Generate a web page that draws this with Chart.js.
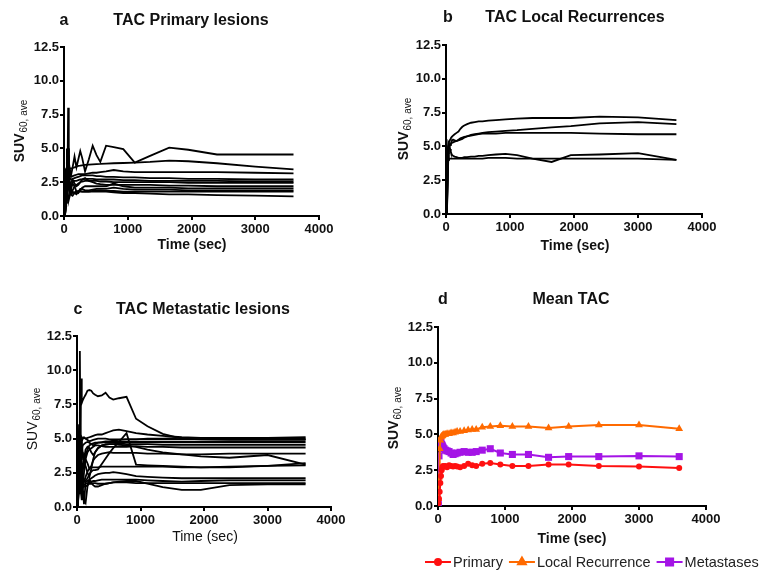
<!DOCTYPE html>
<html>
<head>
<meta charset="utf-8">
<script src="https://cdn.jsdelivr.net/npm/chart.js@4.4.1/dist/chart.umd.min.js"></script>
<style>
  body { margin: 0; background: #fff; overflow: hidden; }
  #wrap { position: relative; width: 766px; height: 572px; }
  canvas { position: absolute; }
</style>
</head>
<body>
<div id="wrap">
  <canvas id="pa" width="383" height="286" style="left:0;top:0"></canvas>
  <canvas id="pb" width="383" height="286" style="left:383px;top:0"></canvas>
  <canvas id="pc" width="383" height="286" style="left:0;top:286px"></canvas>
  <canvas id="pd" width="383" height="286" style="left:383px;top:286px"></canvas>
</div>
<script>
// temps (milieu de frame, sec) communs à toutes les courbes
var frameTimes = [5, 15, 25, 35, 45, 55, 65, 75, 90, 110, 135, 165, 195, 225, 255, 285, 330, 390, 450, 510, 570, 660, 780, 930, 1110, 1350, 1650, 1950, 2400, 3000, 3600];

// ticks des axes
var xTicks = [0, 1000, 2000, 3000, 4000];
var yTicks = [0, 2.5, 5, 7.5, 10, 12.5];

// a : lésions primaires
var primaryLesions = [
  [0, 1.0, 2.5, 3.5, 4.0, 4.5, 5.0, 4.0, 3.5, 3.0, 3.6, 4.4, 3.6, 4.2, 4.8, 4.3, 3.3, 4.2, 5.2, 4.5, 4.0, 5.2, 5.1, 4.95, 3.95, 4.45, 5.05, 4.9, 4.55, 4.55, 4.55],
  [0, 0.5, 1.5, 2.5, 3.2, 3.4, 3.5, 3.6, 3.55, 3.5, 3.55, 3.6, 3.65, 3.7, 3.72, 3.75, 3.78, 3.8, 3.82, 3.84, 3.85, 3.88, 3.9, 3.92, 3.95, 4.0, 4.1, 4.05, 3.9, 3.65, 3.45],
  [0, 0.8, 2.0, 3.0, 2.8, 2.9, 3.0, 3.1, 3.0, 2.9, 2.95, 3.0, 3.05, 3.1, 3.1, 3.1, 3.1, 3.15, 3.2, 3.2, 3.25, 3.3, 3.4, 3.3, 3.25, 3.25, 3.25, 3.25, 3.25, 3.2, 3.15],
  [0, 1.0, 3.5, 2.0, 2.5, 2.8, 3.0, 2.9, 2.8, 2.7, 2.75, 2.8, 2.85, 2.9, 2.95, 3.0, 3.0, 3.0, 3.0, 2.95, 2.95, 2.9, 2.9, 2.85, 2.85, 2.8, 2.8, 2.75, 2.75, 2.7, 2.7],
  [0, 0.5, 2.0, 3.0, 5.0, 3.0, 8.0, 2.5, 2.3, 2.2, 2.5, 2.6, 2.6, 2.65, 2.7, 2.7, 2.75, 2.75, 2.75, 2.7, 2.7, 2.7, 2.7, 2.65, 2.65, 2.6, 2.6, 2.6, 2.6, 2.55, 2.55],
  [0, 0.2, 0.5, 1.2, 2.0, 3.5, 4.5, 2.5, 1.8, 1.6, 1.9, 2.2, 2.3, 2.4, 2.5, 2.55, 2.6, 2.6, 2.6, 2.6, 2.55, 2.55, 2.5, 2.5, 2.5, 2.5, 2.5, 2.45, 2.45, 2.45, 2.45],
  [0, 0.1, 0.3, 1.0, 1.5, 2.5, 5.0, 3.0, 2.0, 2.5, 2.7, 2.4, 2.2, 2.3, 2.5, 2.7, 2.8, 2.6, 2.5, 2.4, 2.35, 2.3, 2.3, 2.3, 2.3, 2.3, 2.25, 2.25, 2.2, 2.2, 2.2],
  [0, 0.5, 1.5, 2.5, 3.0, 2.0, 1.5, 1.2, 1.5, 2.0, 2.4, 2.2, 1.8, 1.7, 1.9, 2.1, 2.2, 2.2, 2.2, 2.2, 2.2, 2.2, 2.4, 2.2, 2.1, 2.1, 2.1, 2.05, 2.05, 2.05, 2.05],
  [0, 0.3, 1.0, 2.0, 2.5, 3.0, 2.5, 2.0, 1.8, 1.6, 1.5, 1.7, 1.6, 1.8, 2.0, 2.0, 1.9, 1.9, 1.95, 2.0, 2.0, 2.0, 2.1, 2.0, 1.95, 1.95, 1.95, 1.9, 1.9, 1.9, 1.9],
  [0, 0.2, 0.8, 1.5, 2.0, 2.5, 3.0, 3.5, 2.5, 2.0, 1.8, 1.7, 1.8, 1.85, 1.85, 1.8, 1.8, 1.8, 1.85, 1.9, 1.9, 1.85, 1.85, 1.8, 1.8, 1.8, 1.8, 1.8, 1.8, 1.8, 1.8],
  [0, 0.1, 0.5, 1.0, 1.5, 1.8, 2.0, 2.2, 2.0, 1.8, 1.7, 1.75, 1.8, 1.8, 1.8, 1.8, 1.8, 1.8, 1.8, 1.8, 1.8, 1.8, 1.75, 1.7, 1.7, 1.65, 1.6, 1.6, 1.55, 1.5, 1.45]
];

// b : récidives locales
var localRecurrences = [
  [0, 0.5, 3.5, 5.0, 5.3, 5.4, 5.5, 5.6, 5.7, 5.8, 5.9, 6.0, 6.1, 6.3, 6.45, 6.55, 6.65, 6.75, 6.8, 6.85, 6.85, 6.9, 6.95, 7.0, 7.05, 7.1, 7.1, 7.1, 7.2, 7.15, 6.95],
  [0, 0.3, 2.5, 4.5, 5.0, 5.1, 5.15, 5.2, 5.25, 5.3, 5.35, 5.4, 5.45, 5.5, 5.55, 5.65, 5.75, 5.85, 5.9, 5.95, 6.0, 6.05, 6.1, 6.15, 6.2, 6.3, 6.4, 6.5, 6.7, 6.8, 6.65],
  [0, 0.2, 2.0, 4.0, 4.8, 5.0, 5.1, 5.2, 5.4, 5.5, 5.45, 5.4, 5.5, 5.6, 5.65, 5.7, 5.75, 5.8, 5.85, 5.9, 5.95, 5.95, 5.95, 6.0, 6.0, 6.0, 6.0, 6.0, 5.95, 5.9, 5.9],
  [0, 0.5, 3.0, 4.0, 4.05, 4.1, 4.1, 4.1, 4.1, 4.1, 4.1, 4.1, 4.1, 4.1, 4.1, 4.1, 4.1, 4.1, 4.1, 4.1, 4.1, 4.15, 4.15, 4.15, 4.1, 4.1, 4.1, 4.1, 4.1, 4.1, 4.0],
  [0, 1.0, 4.5, 5.3, 5.2, 5.0, 4.8, 4.6, 4.4, 4.3, 4.25, 4.2, 4.15, 4.15, 4.15, 4.2, 4.2, 4.25, 4.25, 4.3, 4.3, 4.35, 4.4, 4.45, 4.35, 4.1, 3.85, 4.35, 4.4, 4.5, 4.0]
];

// c : lésions métastatiques
var metastaticLesions = [
  [0, 1.5, 4.0, 3.0, 2.0, 5.0, 9.4, 7.6, 7.8, 8.0, 8.2, 8.5, 8.55, 8.5, 8.3, 8.2, 8.1, 8.15, 8.35, 8.0, 7.85, 7.95, 8.05, 6.45, 5.9, 5.35, 5.0, 4.95, 4.9, 4.9, 4.9],
  [0, 2.0, 5.0, 6.0, 4.5, 4.8, 5.0, 5.1, 5.0, 5.05, 5.0, 5.05, 5.1, 5.15, 5.2, 5.25, 5.3, 5.3, 5.4, 5.5, 5.6, 5.65, 5.55, 5.4, 5.3, 5.2, 5.1, 5.05, 5.0, 5.0, 5.0],
  [0, 2.0, 4.0, 6.0, 11.4, 4.0, 3.5, 4.0, 4.5, 4.6, 4.7, 4.75, 4.7, 4.6, 4.5, 4.6, 4.7, 4.75, 4.8, 4.8, 4.85, 4.9, 4.95, 4.95, 5.0, 5.0, 5.05, 5.05, 5.05, 5.05, 5.1],
  [0, 1.0, 3.0, 5.0, 4.0, 3.5, 3.0, 2.5, 2.2, 2.0, 1.9, 2.1, 2.4, 2.6, 2.7, 2.7, 2.75, 3.15, 3.55, 3.95, 4.3, 4.75, 5.4, 3.1, 3.05, 3.0, 2.95, 2.9, 2.95, 3.0, 3.05],
  [0, 2.0, 4.0, 4.5, 3.6, 3.8, 4.0, 4.1, 3.9, 3.7, 3.5, 3.2, 2.8, 3.0, 3.4, 3.6, 3.8, 3.9, 3.95, 4.0, 3.95, 3.95, 3.95, 3.95, 3.9, 3.9, 3.85, 3.85, 3.9, 3.9, 3.9],
  [0, 1.0, 2.5, 4.0, 5.0, 4.5, 4.2, 4.0, 3.8, 3.5, 3.0, 2.5, 2.2, 2.8, 3.5, 4.0, 4.3, 4.5, 4.6, 4.6, 4.6, 4.55, 4.5, 4.4, 4.2, 4.0, 3.85, 3.7, 3.6, 3.8, 3.1],
  [0, 0.5, 2.0, 3.5, 4.5, 5.0, 4.8, 4.5, 4.0, 3.5, 3.8, 4.2, 4.5, 4.6, 4.65, 4.7, 4.7, 4.7, 4.75, 4.75, 4.75, 4.75, 4.75, 4.75, 4.75, 4.75, 4.75, 4.75, 4.75, 4.75, 4.75],
  [0, 0.3, 1.5, 3.0, 4.0, 4.5, 3.8, 3.0, 2.5, 3.5, 4.2, 4.4, 4.3, 4.0, 3.8, 4.0, 4.3, 4.5, 4.55, 4.6, 4.6, 4.65, 4.6, 4.6, 4.6, 4.55, 4.55, 4.55, 4.55, 4.55, 4.55],
  [0, 1.0, 3.0, 4.5, 5.2, 4.0, 3.0, 2.0, 1.5, 2.5, 3.5, 4.0, 4.2, 4.3, 4.4, 4.5, 4.5, 4.45, 4.4, 4.4, 4.4, 4.4, 4.4, 4.45, 4.4, 4.4, 4.35, 4.35, 4.35, 4.35, 4.35],
  [0, 0.5, 1.5, 2.5, 3.5, 3.0, 2.5, 2.0, 1.5, 1.8, 2.2, 2.6, 2.8, 2.9, 2.9, 2.9, 2.9, 2.95, 2.95, 2.95, 2.95, 2.95, 2.95, 2.95, 2.95, 2.95, 2.9, 2.9, 2.9, 3.0, 3.2],
  [0, 1.0, 2.5, 3.5, 2.0, 1.5, 1.0, 0.5, 1.5, 0.2, 1.8, 1.9, 2.0, 2.1, 2.2, 2.3, 2.4, 2.45, 2.5, 2.5, 2.55, 2.5, 2.4, 2.25, 2.2, 2.15, 2.1, 2.1, 2.1, 2.1, 2.1],
  [0, 0.5, 2.0, 1.0, 2.5, 2.0, 1.5, 1.2, 1.4, 1.6, 1.7, 1.75, 1.8, 1.85, 1.9, 1.9, 1.95, 2.0, 2.0, 2.0, 2.0, 2.0, 2.0, 2.0, 1.95, 1.9, 1.85, 1.9, 1.95, 1.95, 1.95],
  [0, 0.2, 1.0, 2.0, 3.0, 2.5, 2.0, 1.5, 1.0, 0.5, 0.3, 1.5, 2.0, 1.8, 1.6, 1.5, 1.5, 1.6, 1.7, 1.75, 1.8, 1.85, 1.9, 1.9, 1.7, 1.45, 1.25, 1.25, 1.6, 1.65, 1.65],
  [0, 0.3, 1.0, 1.5, 2.0, 2.2, 2.0, 1.8, 1.6, 1.5, 1.5, 1.6, 1.7, 1.7, 1.75, 1.75, 1.7, 1.7, 1.7, 1.75, 1.8, 1.8, 1.8, 1.75, 1.75, 1.75, 1.75, 1.75, 1.75, 1.75, 1.75],
  [0, 1.0, 2.0, 5.0, 7.0, 4.5, 4.0, 4.8, 5.0, 5.1, 5.0, 4.9, 4.8, 4.85, 4.9, 4.95, 5.0, 5.0, 5.0, 4.95, 4.95, 4.95, 4.95, 4.95, 4.95, 4.95, 4.95, 4.95, 4.95, 4.95, 4.95]
];

// d : TAC moyennes
var meanPrimary = [0.2, 0.5, 1.0, 1.6, 2.1, 2.5, 2.7, 2.8, 2.75, 2.8, 2.7, 2.85, 2.8, 2.75, 2.8, 2.75, 2.7, 2.8, 2.95, 2.85, 2.8, 2.95, 3.0, 2.9, 2.8, 2.8, 2.9, 2.9, 2.8, 2.75, 2.65];
var meanLocal = [0.5, 2.0, 4.0, 4.6, 4.8, 4.85, 4.9, 4.95, 5.0, 5.0, 5.05, 5.05, 5.1, 5.1, 5.15, 5.2, 5.2, 5.25, 5.3, 5.35, 5.35, 5.5, 5.55, 5.6, 5.55, 5.55, 5.45, 5.55, 5.65, 5.65, 5.4];
var meanMeta = [0.1, 3.5, 4.4, 4.5, 4.4, 4.3, 4.2, 4.1, 4.0, 3.9, 3.85, 3.8, 3.7, 3.6, 3.65, 3.7, 3.75, 3.8, 3.75, 3.75, 3.8, 3.9, 4.0, 3.7, 3.6, 3.6, 3.4, 3.45, 3.45, 3.5, 3.45];
var meanLabels = ['Primary', 'Local Recurrence', 'Metastases'];

var FONT = '"Liberation Sans", Arial, sans-serif';
Chart.defaults.font.family = FONT;

/**
 * couples {x, y} pour une courbe
 */
function toPoints(vals) {
    return vals.map(function (v, i) { return {x: frameTimes[i], y: v}; });
}

/**
 * textes du panneau : lettre, titre, axes, légende éventuelle
 */
var panelText = {
    id: 'panelText',
    afterDraw: function (chart, args, o) {
        const ctx = chart.ctx;
        ctx.save();
        ctx.fillStyle = '#111';
        ctx.textBaseline = 'middle';
        ctx.textAlign = 'center';
        ctx.font = 'bold 16px ' + FONT;
        ctx.fillText(o.letter, o.letterX, o.titleY);
        ctx.fillText(o.title, o.titleX, o.titleY);

        // label x
        ctx.font = (o.boldLabels ? 'bold ' : '') + '14px ' + FONT;
        ctx.fillText('Time (sec)', o.xLabelX, o.xLabelY);

        // label y avec indice
        ctx.translate(o.yLabelX, o.yLabelY);
        ctx.rotate(-Math.PI / 2);
        ctx.textAlign = 'left';
        ctx.textBaseline = 'alphabetic';
        const big = (o.boldLabels ? 'bold ' : '') + '14px ' + FONT;
        const small = '10px ' + FONT;
        ctx.font = big;
        const w1 = ctx.measureText('SUV').width;
        ctx.font = small;
        const w2 = ctx.measureText('60, ave').width;
        const x0 = -(w1 + w2 + 1) / 2;
        ctx.font = big;
        ctx.fillText('SUV', x0, 0);
        ctx.font = small;
        ctx.fillText('60, ave', x0 + w1 + 1, 3);
        ctx.restore();

        // légende (panneau d)
        if (o.legendY) {
            ctx.save();
            ctx.font = '14.5px ' + FONT;
            ctx.textBaseline = 'middle';
            let x = o.legendX;
            chart.data.datasets.forEach(function (ds) {
                ctx.strokeStyle = ds.borderColor;
                ctx.lineWidth = 2;
                ctx.beginPath();
                ctx.moveTo(x, o.legendY);
                ctx.lineTo(x + 26, o.legendY);
                ctx.stroke();
                ctx.fillStyle = ds.backgroundColor;
                Chart.helpers.drawPoint(ctx, {pointStyle: ds.pointStyle, radius: ds.pointRadius, borderWidth: 1}, x + 13, o.legendY);
                ctx.fillStyle = '#222';
                ctx.fillText(ds.label, x + 28, o.legendY + 1);
                x += 28 + ctx.measureText(ds.label).width + 6;
            });
            ctx.restore();
        }
    }
};

/**
 * création d'un panneau avec zone de tracé fixée
 */
function makePanel(id, datasets, box, text) {
    const canvas = document.getElementById(id);
    const W = canvas.width, H = canvas.height;
    const tickFont = {size: 13, weight: 'bold', family: FONT};
    return new Chart(canvas.getContext('2d'), {
        type: 'line',
        data: {datasets: datasets},
        options: {
            responsive: false,
            animation: false,
            devicePixelRatio: 1,
            layout: {padding: {left: 0, top: box.top, right: W - box.right, bottom: 0}},
            plugins: {legend: {display: false}, tooltip: {enabled: false}, panelText: text},
            elements: {line: {tension: 0}},
            scales: {
                x: {
                    type: 'linear', min: 0, max: 4000,
                    afterBuildTicks: function (s) { s.ticks = xTicks.map(function (v) { return {value: v}; }); },
                    ticks: {font: tickFont, color: '#111', padding: 2, maxRotation: 0,
                            callback: function (v) { return String(v); }},
                    grid: {drawOnChartArea: false, tickLength: 4, color: '#000', lineWidth: 2},
                    border: {color: '#000', width: 2},
                    afterFit: function (s) { s.height = H - box.bottom; }
                },
                y: {
                    min: 0, max: 12.5,
                    afterBuildTicks: function (s) { s.ticks = yTicks.map(function (v) { return {value: v}; }); },
                    ticks: {font: tickFont, color: '#111', padding: 1, callback: function (v) { return v.toFixed(1); }},
                    grid: {drawOnChartArea: false, tickLength: 4, color: '#000', lineWidth: 2},
                    border: {color: '#000', width: 2},
                    afterFit: function (s) { s.width = box.left; }
                }
            }
        },
        plugins: [panelText]
    });
}

function blackLines(series) {
    return series.map(function (vals) {
        return {data: toPoints(vals), borderColor: '#000', borderWidth: 1.8, pointRadius: 0, fill: false};
    });
}

makePanel('pa', blackLines(primaryLesions), {left: 64, top: 47, right: 319, bottom: 216},
    {letter: 'a', letterX: 64, title: 'TAC Primary lesions', titleX: 191, titleY: 21,
     xLabelX: 192, xLabelY: 245, yLabelX: 24, yLabelY: 131, boldLabels: true});

makePanel('pb', blackLines(localRecurrences), {left: 63, top: 45, right: 319, bottom: 214},
    {letter: 'b', letterX: 65, title: 'TAC Local Recurrences', titleX: 192, titleY: 18,
     xLabelX: 192, xLabelY: 246, yLabelX: 25, yLabelY: 129, boldLabels: true});

makePanel('pc', blackLines(metastaticLesions), {left: 77, top: 50, right: 331, bottom: 221},
    {letter: 'c', letterX: 78, title: 'TAC Metastatic lesions', titleX: 203, titleY: 24,
     xLabelX: 205, xLabelY: 251, yLabelX: 37, yLabelY: 133, boldLabels: false});

var meanColors = ['#ff1010', '#ff6a00', '#a414e6'];
var meanStyles = ['circle', 'triangle', 'rect'];
var meanRadius = [3, 4.5, 5];
var meanSets = [meanPrimary, meanLocal, meanMeta].map(function (vals, i) {
    return {
        label: meanLabels[i], data: toPoints(vals),
        borderColor: meanColors[i], backgroundColor: meanColors[i], borderWidth: 2,
        pointStyle: meanStyles[i], pointRadius: meanRadius[i], pointBorderWidth: 0, fill: false
    };
});

makePanel('pd', meanSets, {left: 55, top: 41, right: 323, bottom: 220},
    {letter: 'd', letterX: 60, title: 'Mean TAC', titleX: 188, titleY: 14,
     xLabelX: 189, xLabelY: 253, yLabelX: 15, yLabelY: 132, boldLabels: true,
     legendX: 42, legendY: 276});
</script>
</body>
</html>
